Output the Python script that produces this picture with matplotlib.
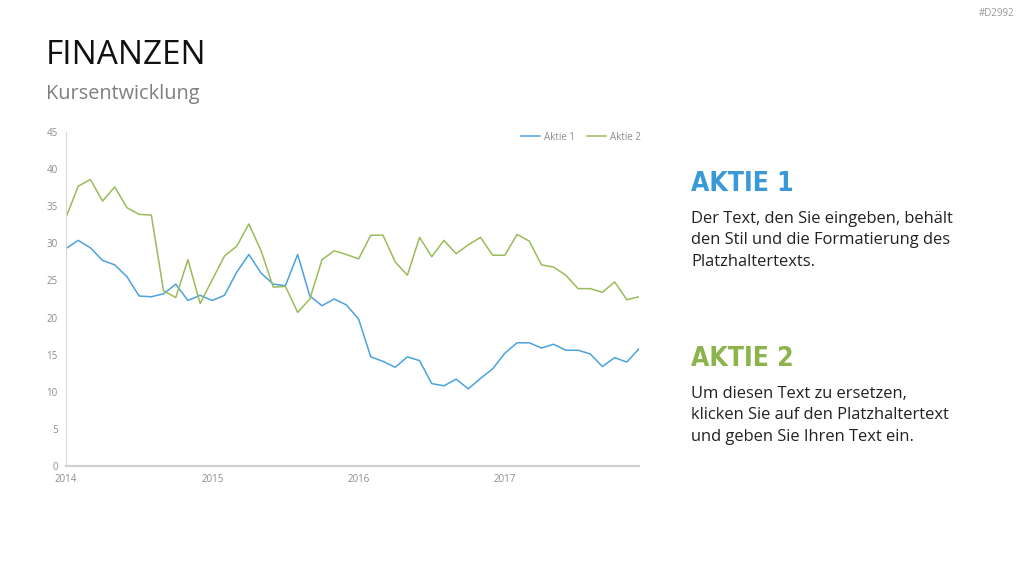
import numpy as np
import matplotlib
matplotlib.use("Agg")
from matplotlib import pyplot as plt

plt.rcParams['font.family'] = ['Open Sans', 'DejaVu Sans']

# monthly closing values, Jan 2014 - Dec 2017
aktie1 = [29.3, 30.4, 29.4, 27.7, 27.1, 25.5, 22.9, 22.8, 23.2, 24.5, 22.3, 23.0,
          22.3, 23.0, 26.1, 28.5, 26.0, 24.5, 24.3, 28.5, 22.9, 21.6, 22.5, 21.7,
          19.8, 14.7, 14.1, 13.3, 14.7, 14.2, 11.1, 10.8, 11.7, 10.4, 11.8, 13.1,
          15.2, 16.6, 16.6, 15.9, 16.4, 15.6, 15.6, 15.1, 13.4, 14.6, 14.0, 15.8]
aktie2 = [33.5, 37.7, 38.6, 35.7, 37.6, 34.8, 33.9, 33.8, 23.6, 22.7, 27.8, 21.9,
          25.1, 28.3, 29.6, 32.6, 29.0, 24.1, 24.2, 20.7, 22.5, 27.8, 29.0, 28.5,
          27.9, 31.1, 31.1, 27.5, 25.7, 30.8, 28.2, 30.4, 28.6, 29.8, 30.8, 28.4,
          28.4, 31.2, 30.3, 27.1, 26.8, 25.7, 23.9, 23.9, 23.4, 24.8, 22.4, 22.8]
years = ['2014', '2015', '2016', '2017']
yticks = [0, 5, 10, 15, 20, 25, 30, 35, 40, 45]

blue = '#4aa3df'
green = '#9bbb59'
grey = '#8c8c8c'

fig = plt.figure(figsize=(10.24, 5.76), dpi=100)
ax = fig.add_axes([66 / 1024, 1 - 466 / 576, 573 / 1024, 334 / 576])

months = np.arange(len(aktie1))
ax.plot(months, aktie1, color=blue, lw=1.1, label='Aktie 1')
ax.plot(months, aktie2, color=green, lw=1.1, label='Aktie 2')

ax.set_xlim(0, len(aktie1) - 1)
ax.set_ylim(0, 45)
ax.set_yticks(yticks)
ax.set_xticks(np.arange(len(years)) * 12)
ax.set_xticklabels(years)
ax.tick_params(length=0, labelsize=7, labelcolor=grey, pad=6)
for s in ['top', 'right']:
    ax.spines[s].set_visible(False)
ax.spines['left'].set_color('#d9d9d9')
ax.spines['bottom'].set_color('#d0d0d0')
ax.spines['bottom'].set_linewidth(1.5)

leg = ax.legend(loc='upper right', ncol=2, frameon=False, fontsize=7,
                handlelength=2.0, columnspacing=1.2, handletextpad=0.4,
                bbox_to_anchor=(1.01, 1.012), borderaxespad=0)
for t in leg.get_texts():
    t.set_color(grey)

fig.text(46 / 1024, 1 - 55 / 576, 'FINANZEN', fontsize=24, color='#111111', va='center')
fig.text(46 / 1024, 1 - 94 / 576, 'Kursentwicklung', fontsize=14.3, color='#7f7f7f', va='center')
fig.text(1014 / 1024, 1 - 14 / 576, '#D2992', fontsize=7, color='#999999', ha='right', va='center')

head = dict(family='DejaVu Sans', fontstretch='condensed', fontweight='bold',
            fontsize=19, va='center')
body = dict(fontsize=11.9, color='#222222', va='top', linespacing=1.45)
fig.text(691 / 1024, 1 - 184 / 576, 'AKTIE 1', color='#3a9ad9', **head)
fig.text(691 / 1024, 1 - 211 / 576,
         'Der Text, den Sie eingeben, behält\nden Stil und die Formatierung des\nPlatzhaltertexts.',
         **body)
fig.text(691 / 1024, 1 - 359 / 576, 'AKTIE 2', color='#8db34c', **head)
fig.text(691 / 1024, 1 - 386 / 576,
         'Um diesen Text zu ersetzen,\nklicken Sie auf den Platzhaltertext\nund geben Sie Ihren Text ein.',
         **body)

fig.savefig('out.png', dpi=100)
